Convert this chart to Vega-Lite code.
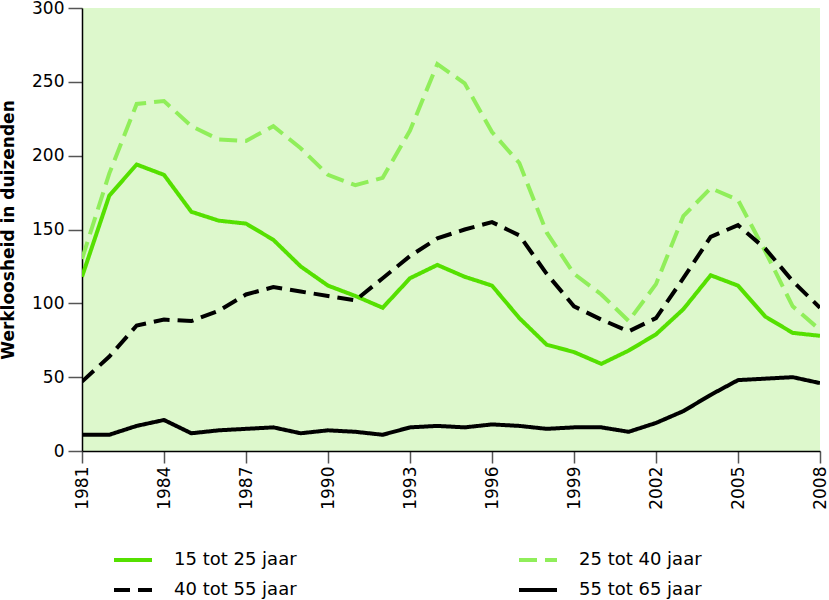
{
  "$schema": "https://vega.github.io/schema/vega-lite/v6.json",
  "width": 738,
  "height": 443,
  "autosize": "none",
  "padding": {"left": 82, "top": 8, "right": 9, "bottom": 149},
  "background": "white",
  "view": {"fill": "#ddf8cc", "stroke": null},
  "datasets": {
    "d": [
      {"jaar":1981,"groep":"15 tot 25 jaar","waarde":118},{"jaar":1982,"groep":"15 tot 25 jaar","waarde":173},{"jaar":1983,"groep":"15 tot 25 jaar","waarde":194},{"jaar":1984,"groep":"15 tot 25 jaar","waarde":187},{"jaar":1985,"groep":"15 tot 25 jaar","waarde":162},{"jaar":1986,"groep":"15 tot 25 jaar","waarde":156},{"jaar":1987,"groep":"15 tot 25 jaar","waarde":154},{"jaar":1988,"groep":"15 tot 25 jaar","waarde":143},{"jaar":1989,"groep":"15 tot 25 jaar","waarde":125},{"jaar":1990,"groep":"15 tot 25 jaar","waarde":112},{"jaar":1991,"groep":"15 tot 25 jaar","waarde":105},{"jaar":1992,"groep":"15 tot 25 jaar","waarde":97},{"jaar":1993,"groep":"15 tot 25 jaar","waarde":117},{"jaar":1994,"groep":"15 tot 25 jaar","waarde":126},{"jaar":1995,"groep":"15 tot 25 jaar","waarde":118},{"jaar":1996,"groep":"15 tot 25 jaar","waarde":112},{"jaar":1997,"groep":"15 tot 25 jaar","waarde":90},{"jaar":1998,"groep":"15 tot 25 jaar","waarde":72},{"jaar":1999,"groep":"15 tot 25 jaar","waarde":67},{"jaar":2000,"groep":"15 tot 25 jaar","waarde":59},{"jaar":2001,"groep":"15 tot 25 jaar","waarde":68},{"jaar":2002,"groep":"15 tot 25 jaar","waarde":79},{"jaar":2003,"groep":"15 tot 25 jaar","waarde":96},{"jaar":2004,"groep":"15 tot 25 jaar","waarde":119},{"jaar":2005,"groep":"15 tot 25 jaar","waarde":112},{"jaar":2006,"groep":"15 tot 25 jaar","waarde":91},{"jaar":2007,"groep":"15 tot 25 jaar","waarde":80},{"jaar":2008,"groep":"15 tot 25 jaar","waarde":78},
      {"jaar":1981,"groep":"25 tot 40 jaar","waarde":130},{"jaar":1982,"groep":"25 tot 40 jaar","waarde":188},{"jaar":1983,"groep":"25 tot 40 jaar","waarde":235},{"jaar":1984,"groep":"25 tot 40 jaar","waarde":237},{"jaar":1985,"groep":"25 tot 40 jaar","waarde":220},{"jaar":1986,"groep":"25 tot 40 jaar","waarde":211},{"jaar":1987,"groep":"25 tot 40 jaar","waarde":210},{"jaar":1988,"groep":"25 tot 40 jaar","waarde":220},{"jaar":1989,"groep":"25 tot 40 jaar","waarde":205},{"jaar":1990,"groep":"25 tot 40 jaar","waarde":187},{"jaar":1991,"groep":"25 tot 40 jaar","waarde":180},{"jaar":1992,"groep":"25 tot 40 jaar","waarde":185},{"jaar":1993,"groep":"25 tot 40 jaar","waarde":217},{"jaar":1994,"groep":"25 tot 40 jaar","waarde":262},{"jaar":1995,"groep":"25 tot 40 jaar","waarde":249},{"jaar":1996,"groep":"25 tot 40 jaar","waarde":216},{"jaar":1997,"groep":"25 tot 40 jaar","waarde":195},{"jaar":1998,"groep":"25 tot 40 jaar","waarde":148},{"jaar":1999,"groep":"25 tot 40 jaar","waarde":120},{"jaar":2000,"groep":"25 tot 40 jaar","waarde":106},{"jaar":2001,"groep":"25 tot 40 jaar","waarde":88},{"jaar":2002,"groep":"25 tot 40 jaar","waarde":113},{"jaar":2003,"groep":"25 tot 40 jaar","waarde":159},{"jaar":2004,"groep":"25 tot 40 jaar","waarde":178},{"jaar":2005,"groep":"25 tot 40 jaar","waarde":170},{"jaar":2006,"groep":"25 tot 40 jaar","waarde":135},{"jaar":2007,"groep":"25 tot 40 jaar","waarde":98},{"jaar":2008,"groep":"25 tot 40 jaar","waarde":82},
      {"jaar":1981,"groep":"40 tot 55 jaar","waarde":47},{"jaar":1982,"groep":"40 tot 55 jaar","waarde":64},{"jaar":1983,"groep":"40 tot 55 jaar","waarde":85},{"jaar":1984,"groep":"40 tot 55 jaar","waarde":89},{"jaar":1985,"groep":"40 tot 55 jaar","waarde":88},{"jaar":1986,"groep":"40 tot 55 jaar","waarde":95},{"jaar":1987,"groep":"40 tot 55 jaar","waarde":106},{"jaar":1988,"groep":"40 tot 55 jaar","waarde":111},{"jaar":1989,"groep":"40 tot 55 jaar","waarde":108},{"jaar":1990,"groep":"40 tot 55 jaar","waarde":105},{"jaar":1991,"groep":"40 tot 55 jaar","waarde":102},{"jaar":1992,"groep":"40 tot 55 jaar","waarde":117},{"jaar":1993,"groep":"40 tot 55 jaar","waarde":132},{"jaar":1994,"groep":"40 tot 55 jaar","waarde":144},{"jaar":1995,"groep":"40 tot 55 jaar","waarde":150},{"jaar":1996,"groep":"40 tot 55 jaar","waarde":155},{"jaar":1997,"groep":"40 tot 55 jaar","waarde":146},{"jaar":1998,"groep":"40 tot 55 jaar","waarde":120},{"jaar":1999,"groep":"40 tot 55 jaar","waarde":98},{"jaar":2000,"groep":"40 tot 55 jaar","waarde":89},{"jaar":2001,"groep":"40 tot 55 jaar","waarde":81},{"jaar":2002,"groep":"40 tot 55 jaar","waarde":90},{"jaar":2003,"groep":"40 tot 55 jaar","waarde":117},{"jaar":2004,"groep":"40 tot 55 jaar","waarde":145},{"jaar":2005,"groep":"40 tot 55 jaar","waarde":153},{"jaar":2006,"groep":"40 tot 55 jaar","waarde":137},{"jaar":2007,"groep":"40 tot 55 jaar","waarde":115},{"jaar":2008,"groep":"40 tot 55 jaar","waarde":97},
      {"jaar":1981,"groep":"55 tot 65 jaar","waarde":11},{"jaar":1982,"groep":"55 tot 65 jaar","waarde":11},{"jaar":1983,"groep":"55 tot 65 jaar","waarde":17},{"jaar":1984,"groep":"55 tot 65 jaar","waarde":21},{"jaar":1985,"groep":"55 tot 65 jaar","waarde":12},{"jaar":1986,"groep":"55 tot 65 jaar","waarde":14},{"jaar":1987,"groep":"55 tot 65 jaar","waarde":15},{"jaar":1988,"groep":"55 tot 65 jaar","waarde":16},{"jaar":1989,"groep":"55 tot 65 jaar","waarde":12},{"jaar":1990,"groep":"55 tot 65 jaar","waarde":14},{"jaar":1991,"groep":"55 tot 65 jaar","waarde":13},{"jaar":1992,"groep":"55 tot 65 jaar","waarde":11},{"jaar":1993,"groep":"55 tot 65 jaar","waarde":16},{"jaar":1994,"groep":"55 tot 65 jaar","waarde":17},{"jaar":1995,"groep":"55 tot 65 jaar","waarde":16},{"jaar":1996,"groep":"55 tot 65 jaar","waarde":18},{"jaar":1997,"groep":"55 tot 65 jaar","waarde":17},{"jaar":1998,"groep":"55 tot 65 jaar","waarde":15},{"jaar":1999,"groep":"55 tot 65 jaar","waarde":16},{"jaar":2000,"groep":"55 tot 65 jaar","waarde":16},{"jaar":2001,"groep":"55 tot 65 jaar","waarde":13},{"jaar":2002,"groep":"55 tot 65 jaar","waarde":19},{"jaar":2003,"groep":"55 tot 65 jaar","waarde":27},{"jaar":2004,"groep":"55 tot 65 jaar","waarde":38},{"jaar":2005,"groep":"55 tot 65 jaar","waarde":48},{"jaar":2006,"groep":"55 tot 65 jaar","waarde":49},{"jaar":2007,"groep":"55 tot 65 jaar","waarde":50},{"jaar":2008,"groep":"55 tot 65 jaar","waarde":46}
    ]
  },
  "data": {"name": "d"},
  "mark": {"type": "line", "strokeWidth": 4, "strokeJoin": "miter", "strokeCap": "butt", "clip": true},
  "encoding": {
    "x": {
      "field": "jaar", "type": "quantitative",
      "scale": {"domain": [1981, 2008], "nice": false, "zero": false},
      "axis": {
        "values": [1981,1984,1987,1990,1993,1996,1999,2002,2005,2008],
        "format": "d", "title": null, "grid": false,
        "labelAngle": -90, "labelAlign": "right", "labelBaseline": "middle",
        "labelFont": "DejaVu Sans", "labelFontSize": 17, "labelColor": "#000",
        "labelPadding": 3, "tickSize": 12, "tickColor": "#555", "tickWidth": 1.5,
        "domainColor": "#000", "domainWidth": 1.5, "labelFlush": false, "labelOverlap": false
      }
    },
    "y": {
      "field": "waarde", "type": "quantitative",
      "scale": {"domain": [0, 300], "nice": false},
      "axis": {
        "values": [0,50,100,150,200,250,300],
        "title": "Werkloosheid in duizenden", "grid": false,
        "titleFont": "DejaVu Sans", "titleFontSize": 17, "titleFontWeight": "bold", "titleColor": "#000",
        "titlePadding": 14,
        "labelFont": "DejaVu Sans", "labelFontSize": 17, "labelColor": "#000",
        "labelPadding": 4, "tickSize": 14, "tickColor": "#555", "tickWidth": 1.5,
        "domainColor": "#000", "domainWidth": 1.5
      }
    },
    "color": {
      "field": "groep", "type": "nominal",
      "scale": {
        "domain": ["15 tot 25 jaar", "25 tot 40 jaar", "40 tot 55 jaar", "55 tot 65 jaar"],
        "range": ["#55e000", "#90ee5a", "#000000", "#000000"]
      },
      "legend": {
        "title": null, "orient": "none", "legendX": 30, "legendY": 531,
        "direction": "horizontal",
        "columns": 2, "columnPadding": 214, "rowPadding": -6,
        "symbolType": "stroke", "symbolSize": 1444, "symbolStrokeWidth": 4,
        "labelFont": "DejaVu Sans", "labelFontSize": 18, "labelColor": "#000",
        "labelOffset": 20
      }
    },
    "strokeDash": {
      "field": "groep", "type": "nominal",
      "scale": {
        "domain": ["15 tot 25 jaar", "25 tot 40 jaar", "40 tot 55 jaar", "55 tot 65 jaar"],
        "range": [[1, 0], [18, 8], [16, 8], [1, 0]]
      }
    }
  }
}
